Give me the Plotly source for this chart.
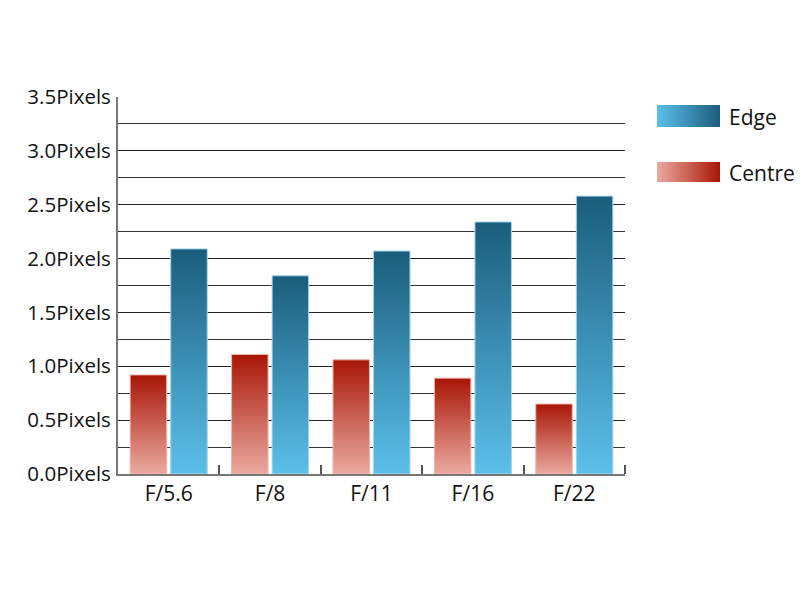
import plotly.graph_objects as go

categories = ["F/5.6", "F/8", "F/11", "F/16", "F/22"]
centre = [0.92, 1.11, 1.06, 0.89, 0.65]
edge = [2.09, 1.84, 2.07, 2.34, 2.58]
y_ticks = [0, 0.5, 1.0, 1.5, 2.0, 2.5, 3.0, 3.5]
y_labels = [f"{v:.1f}Pixels" for v in y_ticks]
series_names = ["Edge", "Centre"]

EDGE_SCALE = [[0, "#5cc0ea"], [1, "#1a5d7d"]]
CENTRE_SCALE = [[0, "#eba9a0"], [1, "#a81606"]]
EDGE_OUTLINE = "#a9d7ea"
CENTRE_OUTLINE = "#f0b8b0"
BAR_W = 0.36
FONT = "Open Sans"

W, H = 800, 600
L, R, T, B = 118, 0, 97, 126
PW = W - L - R
PH = H - T - B
plot_right = 625

fig = go.Figure()
xs = list(range(len(categories)))

series = [
    ("Centre", centre, CENTRE_SCALE, CENTRE_OUTLINE, -0.38),
    ("Edge", edge, EDGE_SCALE, EDGE_OUTLINE, 0.02),
]
for name, vals, scale, outline, off in series:
    fig.add_bar(x=xs, y=vals, width=BAR_W, offset=off, name=name,
                marker=dict(color=scale[0][1], line=dict(width=0)),
                showlegend=False, hoverinfo="y+name")
    for i, v in enumerate(vals):
        x0 = i + off
        x1 = x0 + BAR_W
        fig.add_scatter(x=[x0, x1, x1, x0, x0], y=[0, 0, v, v, 0],
                        fill="toself", mode="lines",
                        fillgradient=dict(type="vertical", colorscale=scale, start=0, stop=v),
                        line=dict(color=outline, width=1),
                        showlegend=False, hoverinfo="skip")

# custom gradient legend on an overlay axis
leg_x0, leg_x1 = 657, 720
leg_top, leg_bot = 105, 182
legend_items = [("Edge", EDGE_SCALE, 55, 77, 117), ("Centre", CENTRE_SCALE, 0, 20, 173)]
for name, scale, y0, y1, ty in legend_items:
    fig.add_scatter(x=[0, 1, 1, 0, 0], y=[y0, y0, y1, y1, y0], xaxis="x2", yaxis="y2",
                    fill="toself", mode="lines",
                    fillgradient=dict(type="horizontal", colorscale=scale, start=0, stop=1),
                    line=dict(width=0), showlegend=False, hoverinfo="skip")
    fig.add_annotation(x=(727 - L) / PW, y=(H - B - ty) / PH, xref="paper", yref="paper",
                       text=name, showarrow=False, xanchor="left", yanchor="middle",
                       font=dict(family=FONT, size=21, color="#111"))

fig.update_layout(
    width=W, height=H,
    margin=dict(l=L, r=R, t=T, b=B, autoexpand=False),
    paper_bgcolor="white", plot_bgcolor="white",
    font=dict(family=FONT, size=21, color="#111"),
    showlegend=False,
    barmode="overlay",
    xaxis=dict(domain=[0, (plot_right - L) / PW], range=[-0.5, 4.5],
               tickmode="array", tickvals=xs, ticktext=categories, ticks="",
               tickfont=dict(size=21),
               showgrid=False, zeroline=False,
               showline=True, linecolor="#777", linewidth=2,
               minor=dict(tickmode="array", tickvals=[0.5, 1.5, 2.5, 3.5, 4.5],
                          ticks="inside", ticklen=9, tickcolor="#555", tickwidth=1.5,
                          showgrid=False),
               fixedrange=True),
    yaxis=dict(range=[0, 3.5], tickmode="array", tickvals=y_ticks, ticktext=y_labels,
               ticks="", tickfont=dict(size=20.5),
               showgrid=True, gridcolor="#222", gridwidth=1.2,
               zeroline=False, showline=True, linecolor="#777", linewidth=2,
               ticklabelstandoff=1,
               minor=dict(tickmode="linear", tick0=0, dtick=0.25, showgrid=True,
                          gridcolor="#333", gridwidth=1.2),
               fixedrange=True),
    xaxis2=dict(domain=[(leg_x0 - L) / PW, (leg_x1 - L) / PW], range=[0, 1],
                visible=False, anchor="y2", fixedrange=True),
    yaxis2=dict(domain=[(H - B - leg_bot) / PH, (H - B - leg_top) / PH], range=[0, 77],
                visible=False, anchor="x2", fixedrange=True),
)

fig.write_html("out.html", config={"displayModeBar": False},
               post_script="document.body.style.margin='0';")
